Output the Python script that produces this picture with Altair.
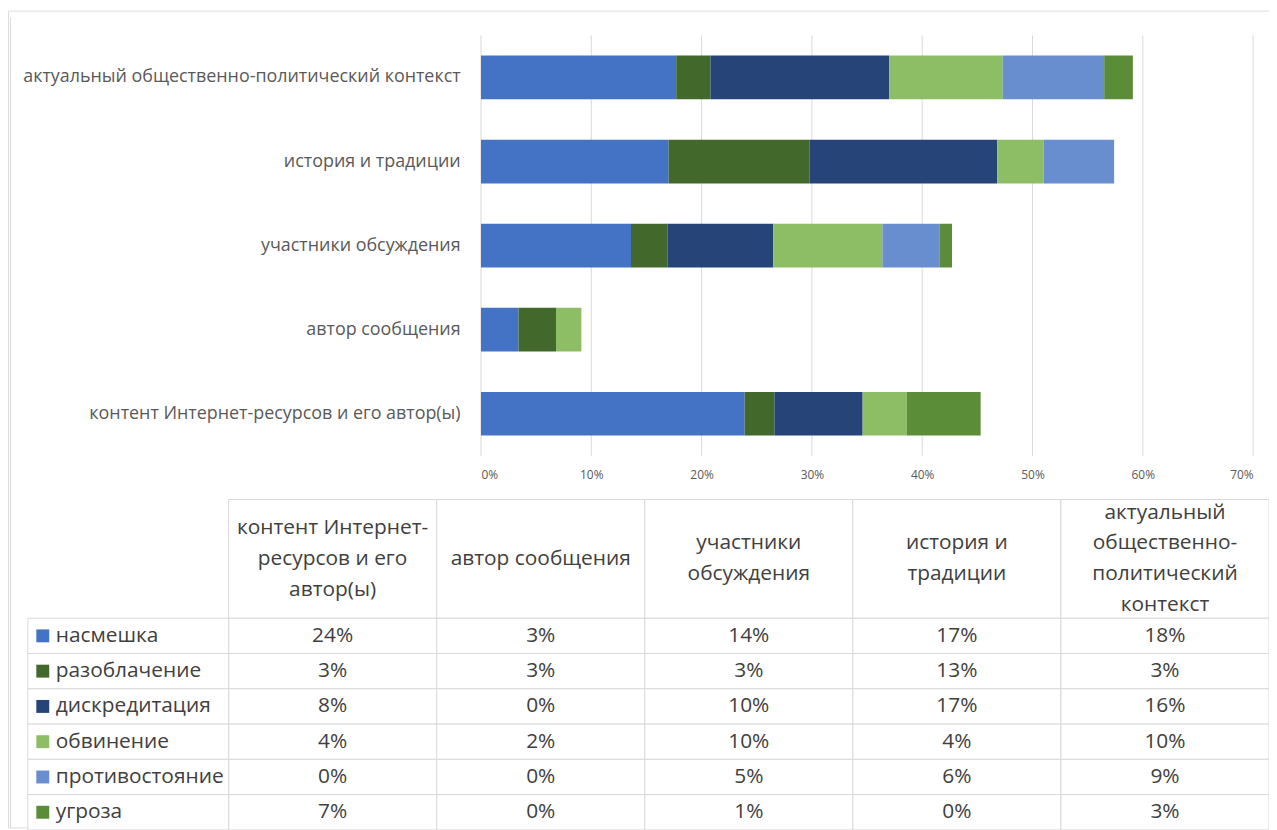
import altair as alt
import pandas as pd

FONT = "Open Sans"

# ---- data (table order = Excel category order) ----
categories = [
    "контент Интернет-ресурсов и его автор(ы)",
    "автор сообщения",
    "участники обсуждения",
    "история и традиции",
    "актуальный общественно-политический контекст",
]
header_labels = [
    "контент Интернет-\nресурсов и его\nавтор(ы)",
    "автор сообщения",
    "участники\nобсуждения",
    "история и\nтрадиции",
    "актуальный\nобщественно-\nполитический\nконтекст",
]
series = ["насмешка", "разоблачение", "дискредитация", "обвинение", "противостояние", "угроза"]
colors = ["#4472C4", "#43682B", "#264478", "#8DBE65", "#698ED0", "#5B8C38"]

nasmeshka = [0.239, 0.034, 0.136, 0.170, 0.177]
razoblachenie = [0.027, 0.034, 0.033, 0.128, 0.031]
diskreditatsiya = [0.080, 0.000, 0.096, 0.170, 0.162]
obvinenie = [0.040, 0.023, 0.099, 0.042, 0.103]
protivostoyanie = [0.000, 0.000, 0.052, 0.064, 0.092]
ugroza = [0.067, 0.000, 0.011, 0.000, 0.026]

tick_values = [0, 0.1, 0.2, 0.3, 0.4, 0.5, 0.6, 0.7]

values_by_series = [nasmeshka, razoblachenie, diskreditatsiya, obvinenie, protivostoyanie, ugroza]

rows = []
for si, (s, vals) in enumerate(zip(series, values_by_series)):
    for c, v in zip(categories, vals):
        rows.append({"category": c, "series": s, "order": si, "value": v})
df = pd.DataFrame(rows)

# layout helpers
W, H = 1269, 822
HDR_TOP, HDR_BOT = 492, 611.5
ROWS_BOT = 824.5
LINE_H = 31
HDR_HALF = (HDR_BOT - HDR_TOP) / 2

hdr = pd.DataFrame({
    "category": categories,
    "header": header_labels,
    "row": ["header"] * 5,
    "dy": [HDR_HALF - h.count("\n") * LINE_H / 2 for h in header_labels],
})
leg = pd.DataFrame({"series": series, "col": ["legend"] * len(series)})
ticks_df = pd.DataFrame({"t": tick_values})

GRID = "#d9d9d9"
TXT = "#404040"

color_scale = alt.Scale(domain=series, range=colors)

x_axis = alt.Axis(
    format=".0%", values=tick_values, grid=False, domain=False, ticks=False,
    labelPadding=14, offset=448 - H, labelFont=FONT, labelFontSize=12,
    labelColor="#595959", title=None,
)
x_scale = alt.Scale(domain=[0, 0.7], range=[476, 1253], nice=False)

# ---- vertical gridlines + stacked bars ----
grid = alt.Chart(ticks_df).mark_rule(color=GRID, strokeWidth=1).encode(
    x=alt.X("t:Q", scale=x_scale, axis=x_axis),
    y=alt.value(25), y2=alt.value(448),
)
bars = alt.Chart(df).mark_bar().encode(
    x=alt.X("value:Q", stack="zero", scale=x_scale, axis=x_axis),
    y=alt.Y(
        "category:N",
        sort=categories[::-1],
        scale=alt.Scale(type="band", range=[25, 448], paddingInner=0.48, paddingOuter=0.24),
        axis=alt.Axis(
            offset=-476, domain=False, ticks=False, grid=False, labelPadding=21,
            labelFont=FONT, labelFontSize=18, labelColor="#595959", labelLimit=0, title=None,
        ),
    ),
    color=alt.Color("series:N", scale=color_scale, legend=None),
    order=alt.Order("order:Q", sort="ascending"),
)
bar_layer = alt.layer(grid, bars)

# ---- table header ----
hx = alt.X("category:N", sort=categories,
           scale=alt.Scale(type="band", range=[222, 1269], paddingInner=0, paddingOuter=0), axis=None)
hy = alt.Y("row:N", scale=alt.Scale(type="band", range=[HDR_TOP, HDR_BOT], paddingInner=0, paddingOuter=0), axis=None)
hdr_rect = alt.Chart(hdr).mark_rect(fill="white", stroke=GRID, strokeWidth=1).encode(x=hx, y=hy)
hdr_text = alt.Chart(hdr).mark_text(
    lineBreak="\n", font=FONT, fontSize=21, lineHeight=LINE_H, color=TXT, baseline="middle", align="center"
).encode(x=hx, y=hy, yOffset=alt.YOffset("dy:Q", scale=None), text="header:N")
header_layer = alt.layer(hdr_rect, hdr_text)

# ---- table values ----
cx = alt.X("category:N", sort=categories,
           scale=alt.Scale(type="band", range=[222, 1269], paddingInner=0, paddingOuter=0), axis=None)
cy = alt.Y("series:N", sort=series,
           scale=alt.Scale(type="band", range=[HDR_BOT, ROWS_BOT], paddingInner=0, paddingOuter=0), axis=None)
cell_rect = alt.Chart(df).mark_rect(fill="white", stroke=GRID, strokeWidth=1).encode(x=cx, y=cy)
cell_text = alt.Chart(df).mark_text(
    font=FONT, fontSize=21, color=TXT, baseline="middle", align="center"
).encode(x=cx, y=cy, text=alt.Text("value:Q", format=".0%"))
cell_layer = alt.layer(cell_rect, cell_text)

# ---- legend column of the table ----
lx = alt.X("col:N", scale=alt.Scale(type="band", range=[20, 222], paddingInner=0, paddingOuter=0), axis=None)
ly = alt.Y("series:N", sort=series,
           scale=alt.Scale(type="band", range=[HDR_BOT, ROWS_BOT], paddingInner=0, paddingOuter=0), axis=None)
leg_rect = alt.Chart(leg).mark_rect(fill="white", stroke=GRID, strokeWidth=1).encode(x=lx, y=ly)
leg_sq = alt.Chart(leg).mark_square(size=169, opacity=1, filled=True, xOffset=-86).encode(
    x=lx, y=ly, color=alt.Color("series:N", scale=color_scale, legend=None)
)
leg_text = alt.Chart(leg).mark_text(
    font=FONT, fontSize=21, color=TXT, align="left", baseline="middle", dx=-73
).encode(x=lx, y=ly, text="series:N")
legend_layer = alt.layer(leg_rect, leg_sq, leg_text)

# ---- chart area border (left edge) ----
border = alt.Chart(pd.DataFrame({"a": [0]})).mark_rule(color=GRID, strokeWidth=1).encode(
    x=alt.value(2.5), y=alt.value(7), y2=alt.value(H)
)

chart = (
    alt.layer(border, bar_layer, header_layer, cell_layer, legend_layer)
    .resolve_scale(x="independent", y="independent", color="independent")
    .properties(width=W, height=H, padding=0, autosize="none", background="white")
    .configure_view(stroke="transparent")
    .configure(font=FONT)
)

chart.save("out.html", embed_options={"renderer": "svg", "actions": False})
